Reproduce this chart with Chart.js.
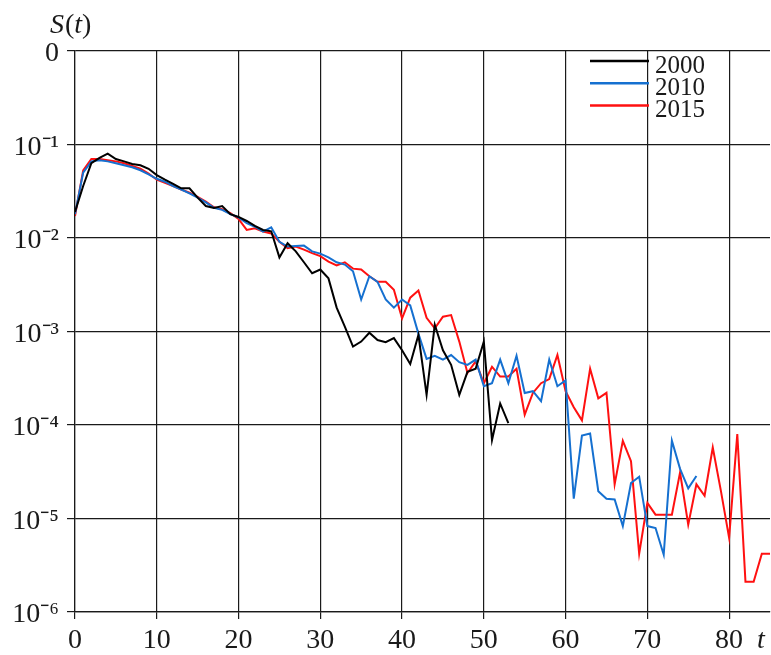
<!DOCTYPE html>
<html><head><meta charset="utf-8">
<script src="https://cdn.jsdelivr.net/npm/chart.js@4"></script>
<style>html,body{margin:0;padding:0;background:#fff}#wrap{width:771px;height:655px;position:relative}</style>
</head><body><div id="wrap"><canvas id="c"></canvas></div>
<script>
const seriesNames = ['2000', '2010', '2015'];
const seriesColors = ['#000000', '#1570d0', '#ff1010'];

// S(t) values at t = 0, 1, 2, ...
const s2000 = [0.019,0.036,0.063,0.072,0.080,0.070,0.066,0.062,0.060,0.055,
  0.047,0.042,0.038,0.034,0.034,0.027,0.022,0.021,0.022,0.018,
  0.0168,0.0152,0.0135,0.0122,0.0118,0.0062,0.0088,0.0072,0.0055,0.0042,
  0.0046,0.0037,0.0018,0.00113,0.00069,0.00078,0.00097,0.00081,0.00077,0.00085,
  0.00063,0.00045,0.00092,0.00021,0.00118,0.00063,0.00044,0.00021,0.00037,0.00040,
  0.00078,0.000069,0.00017,0.000105];
const s2010 = [0.018,0.050,0.066,0.068,0.066,0.063,0.060,0.057,0.053,0.048,
  0.043,0.040,0.036,0.033,0.030,0.027,0.024,0.021,0.020,0.018,
  0.0166,0.0144,0.0132,0.0117,0.0130,0.0091,0.0081,0.0082,0.0083,0.0072,
  0.0068,0.0062,0.0055,0.0052,0.0044,0.0022,0.0039,0.0034,0.0022,0.0018,
  0.0022,0.0019,0.00095,0.00051,0.00055,0.00050,0.00056,0.00047,0.00044,0.00050,
  0.00026,0.00028,0.00050,0.00028,0.00055,0.00022,0.00023,0.00018,0.00050,0.00026,
  0.00030,0.0000163,0.000077,0.000081,0.0000196,0.0000163,0.0000160,0.0000083,0.000024,0.000028,
  0.0000083,0.0000079,0.0000041,0.000068,0.000034,0.000021,0.0000285];
const s2015 = [0.0172,0.053,0.070,0.070,0.068,0.066,0.063,0.059,0.055,0.049,
  0.042,0.039,0.036,0.033,0.0305,0.0276,0.0245,0.0213,0.0203,0.0184,
  0.0160,0.0122,0.0127,0.0117,0.0112,0.0091,0.0078,0.0081,0.0075,0.0069,
  0.0064,0.0056,0.0051,0.0055,0.0047,0.0046,0.0039,0.0034,0.0034,0.0028,
  0.00138,0.0023,0.00275,0.00140,0.00108,0.00144,0.0015,0.00078,0.00036,0.00048,
  0.00028,0.00042,0.00033,0.00033,0.00040,0.000129,0.00022,0.00028,0.00031,0.00056,
  0.00023,0.000155,0.000112,0.00040,0.000193,0.000221,0.0000232,0.0000678,0.000041,0.0000042,
  0.0000147,0.000011,0.000011,0.000011,0.000031,0.0000086,0.0000232,0.0000175,0.0000575,0.0000196,
  0.0000062,0.000080,0.0000021,0.0000021,0.0000042,0.0000042];

const xTickValues = [0, 10, 20, 30, 40, 50, 60, 70, 80];
const xTickLabels = ['0', '10', '20', '30', '40', '50', '60', '70', '80'];
const yTickValues = [1e-6, 1e-5, 1e-4, 1e-3, 1e-2, 1e-1, 1];
const yTickLabels = ['10\u207B\u2076', '10\u207B\u2075', '10\u207B\u2074', '10\u207B\u00B3', '10\u207B\u00B2', '10\u207B\u00B9', '0'];
const yAxisTitle = 'S(t)';
const xAxisTitle = 't';

const allSeries = [s2000, s2010, s2015];
const SERIF = "'Liberation Serif', 'Times New Roman', serif";

const textPlugin = {
  id: 'texts',
  afterDraw(chart) {
    const ctx = chart.ctx;
    ctx.save();
    ctx.fillStyle = '#1a1a1a';
    ctx.textBaseline = 'alphabetic';
    // y title S(t)
    let x = 50, y = 33;
    const parts = [['S', true], ['(', false], ['t', true], [')', false]];
    for (const [s, it] of parts) {
      ctx.font = (it ? 'italic ' : '') + '28px ' + SERIF;
      ctx.fillText(s, x, y);
      x += ctx.measureText(s).width + (s === 'S' ? 1 : 0);
    }
    // x title t
    ctx.font = 'italic 28px ' + SERIF;
    ctx.fillText(xAxisTitle, 757, 648);
    // legend
    const lx0 = 590, lx1 = 649;
    chart.data.datasets.forEach((ds, i) => {
      const ly = 61 + i * 22.3;
      ctx.strokeStyle = ds.borderColor;
      ctx.lineWidth = 2.5;
      ctx.beginPath();
      ctx.moveTo(lx0, ly);
      ctx.lineTo(lx1, ly);
      ctx.stroke();
      ctx.font = '25px ' + SERIF;
      ctx.fillStyle = '#1a1a1a';
      ctx.fillText(ds.label, 655, ly + 11.5);
    });
    ctx.restore();
  }
};

new Chart(document.getElementById('c'), {
  type: 'line',
  data: {
    datasets: allSeries.map((arr, i) => ({
      label: seriesNames[i],
      data: arr.map((v, t) => ({ x: t, y: v })),
      borderColor: seriesColors[i],
      backgroundColor: seriesColors[i],
      borderWidth: 2,
      pointRadius: 0,
      tension: 0,
      fill: false
    }))
  },
  options: {
    responsive: true,
    maintainAspectRatio: false,
    animation: false,
    layout: { padding: { top: 51, right: 1, left: 0, bottom: 0 } },
    plugins: { legend: { display: false }, tooltip: { enabled: false } },
    scales: {
      x: {
        type: 'linear',
        min: 0, max: 85,
        afterBuildTicks: s => { s.ticks = xTickValues.map(v => ({ value: v })); },
        afterFit: s => { s.height = 43; },
        ticks: {
          callback: (v) => { const i = xTickValues.indexOf(v); return i >= 0 ? xTickLabels[i] : ''; },
          font: { family: SERIF, size: 28 },
          color: '#1a1a1a',
          padding: 5,
          maxRotation: 0,
          autoSkip: false
        },
        grid: { color: '#1a1a1a', lineWidth: 1.2, tickLength: 7, drawTicks: true },
        border: { color: '#1a1a1a', width: 1.2 }
      },
      y: {
        type: 'logarithmic',
        min: 1e-6, max: 1,
        afterBuildTicks: s => { s.ticks = yTickValues.map(v => ({ value: v })); },
        afterFit: s => { s.width = 75; },
        ticks: {
          callback: (v) => { const i = yTickValues.findIndex(t => Math.abs(t - v) / t < 1e-6); return i >= 0 ? yTickLabels[i] : ''; },
          font: { family: SERIF, size: 28 },
          color: '#1a1a1a',
          padding: 8,
          labelOffset: 3,
          autoSkip: false
        },
        grid: { color: '#1a1a1a', lineWidth: 1.2, tickLength: 8, drawTicks: true },
        border: { color: '#1a1a1a', width: 1.2 }
      }
    }
  },
  plugins: [textPlugin]
});
</script></body></html>
